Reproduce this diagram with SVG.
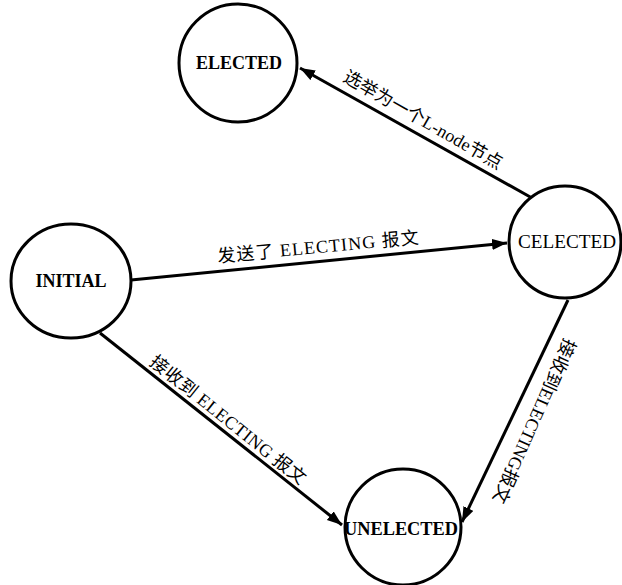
<svg xmlns="http://www.w3.org/2000/svg" width="622" height="585" viewBox="0 0 622 585">
<style>
.node{fill:#fff;stroke:#000;stroke-width:3}
.nl{font-family:"Liberation Serif","Noto Sans CJK SC",serif;font-size:18px;font-weight:bold;fill:#000;text-anchor:middle}
.edge{stroke:#000;stroke-width:3;fill:none;marker-end:url(#ah)}
.el{font-family:"Liberation Serif","Noto Sans CJK SC",serif;font-size:18px;fill:#000;text-anchor:middle}
</style>
<defs>
<marker id="ah" markerUnits="userSpaceOnUse" markerWidth="16" markerHeight="12" refX="15" refY="5.5" orient="auto">
<path d="M0,0 L15,5.5 L0,11 Z" fill="#000"/>
</marker>
</defs>
<rect width="622" height="585" fill="#fff"/>
<g id="connectors">
<line class="edge" x1="532" y1="198" x2="300" y2="68"/>
<line class="edge" x1="131" y1="280" x2="507" y2="243"/>
<line class="edge" x1="100" y1="333" x2="342" y2="525"/>
<line class="edge" x1="568" y1="300" x2="462" y2="522"/>
<text class="el" transform="translate(423,120) rotate(29.8)" y="6" textLength="180" lengthAdjust="spacing">选举为一个L-node节点</text>
<text class="el" transform="translate(318,247) rotate(-5.4)" y="6" textLength="202" lengthAdjust="spacing">发送了 ELECTING 报文</text>
<text class="el" transform="translate(228,420) rotate(38.7)" y="6" textLength="194" lengthAdjust="spacing">接收到 ELECTING 报文</text>
<text class="el" transform="translate(534,421) rotate(114)" y="6" textLength="178" lengthAdjust="spacing">接收到ELECTING报文</text>
</g>
<g id="ELECTED">
<circle class="node" cx="238" cy="63" r="59"/>
<text class="nl" x="239" y="69">ELECTED</text>
</g>
<g id="INITIAL">
<ellipse class="node" cx="71" cy="281" rx="60" ry="57"/>
<text class="nl" x="71" y="287">INITIAL</text>
</g>
<g id="CELECTED">
<circle class="node" cx="565" cy="242" r="56"/>
<text class="nl" x="567" y="248" style="font-weight:normal;font-size:19px" textLength="98" lengthAdjust="spacingAndGlyphs">CELECTED</text>
</g>
<g id="UNELECTED">
<circle class="node" cx="403" cy="527" r="58"/>
<text class="nl" x="401" y="535" textLength="114" lengthAdjust="spacingAndGlyphs">UNELECTED</text>
</g>
</svg>
